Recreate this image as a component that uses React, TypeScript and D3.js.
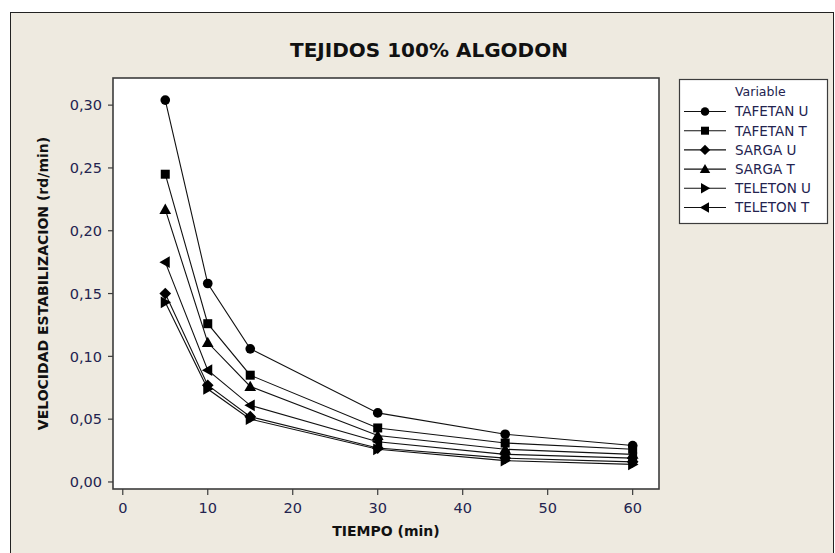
import React, { useRef, useEffect } from 'react';
import * as d3 from 'd3';

const tiempos = [5, 10, 15, 30, 45, 60];
const seriesNames = ['TAFETAN U', 'TAFETAN T', 'SARGA U', 'SARGA T', 'TELETON U', 'TELETON T'];
const tafetanU = [0.304, 0.158, 0.106, 0.055, 0.038, 0.029];
const tafetanT = [0.245, 0.126, 0.085, 0.043, 0.031, 0.026];
const sargaU = [0.150, 0.077, 0.052, 0.027, 0.019, 0.016];
const sargaT = [0.217, 0.111, 0.076, 0.037, 0.026, 0.022];
const teletonU = [0.143, 0.074, 0.050, 0.026, 0.017, 0.014];
const teletonT = [0.175, 0.089, 0.061, 0.032, 0.022, 0.019];
const yTicks = [0, 0.05, 0.1, 0.15, 0.2, 0.25, 0.3];
const xTicks = [0, 10, 20, 30, 40, 50, 60];
const markers = ['circle', 'square', 'diamond', 'up', 'right', 'left'];

const BG = '#eeeae0';
const INK = '#23234f';

// marker shape around 0,0
const markerPath = (kind, r) => {
  switch (kind) {
    case 'square':
      return `M${-r},${-r}H${r}V${r}H${-r}Z`;
    case 'diamond':
      return `M0,${-r * 1.3}L${r * 1.3},0L0,${r * 1.3}L${-r * 1.3},0Z`;
    case 'up':
      return `M0,${-r * 1.3}L${r * 1.3},${r}L${-r * 1.3},${r}Z`;
    case 'right':
      return `M${r * 1.3},0L${-r},${r * 1.3}L${-r},${-r * 1.3}Z`;
    case 'left':
      return `M${-r * 1.3},0L${r},${r * 1.3}L${r},${-r * 1.3}Z`;
    default:
      return d3.symbol(d3.symbolCircle, Math.PI * r * r * 1.15)();
  }
};

const Chart = () => {
  const ref = useRef(null);

  useEffect(() => {
    const values = [tafetanU, tafetanT, sargaU, sargaT, teletonU, teletonT];
    const series = seriesNames.map((name, i) => ({
      name,
      marker: markers[i],
      points: tiempos.map((t, j) => ({ t, v: values[i][j] })),
    }));

    const W = 835, H = 553;
    const plot = { left: 113, top: 78, right: 659, bottom: 489 };

    d3.select(ref.current).selectAll('*').remove();
    const svg = d3.select(ref.current)
      .append('svg')
      .attr('width', W)
      .attr('height', H)
      .style('position', 'absolute')
      .style('left', 0)
      .style('top', 0)
      .style('font-family', "'DejaVu Sans', Verdana, sans-serif");

    svg.append('rect').attr('width', W).attr('height', H).attr('fill', '#ffffff');
    svg.append('rect')
      .attr('x', 10.5).attr('y', 12.5)
      .attr('width', 823).attr('height', 560)
      .attr('fill', BG).attr('stroke', '#222').attr('stroke-width', 1);

    const x = d3.scaleLinear().domain([-1.15, 63.1]).range([plot.left, plot.right]);
    const y = d3.scaleLinear().domain([-0.0056, 0.3216]).range([plot.bottom, plot.top]);

    svg.append('rect')
      .attr('x', plot.left).attr('y', plot.top)
      .attr('width', plot.right - plot.left).attr('height', plot.bottom - plot.top)
      .attr('fill', '#ffffff').attr('stroke', '#3c3c3c').attr('stroke-width', 1.6);

    svg.append('text')
      .attr('x', 429).attr('y', 57)
      .attr('text-anchor', 'middle')
      .style('font-weight', 'bold')
      .style('font-size', '20px')
      .attr('fill', '#111')
      .text('TEJIDOS 100% ALGODON');

    // y axis
    const yAxis = svg.append('g');
    yTicks.forEach(t => {
      yAxis.append('line')
        .attr('x1', plot.left - 5).attr('x2', plot.left)
        .attr('y1', y(t)).attr('y2', y(t))
        .attr('stroke', '#3c3c3c').attr('stroke-width', 1.2);
      yAxis.append('text')
        .attr('x', plot.left - 11).attr('y', y(t))
        .attr('dy', '0.36em')
        .attr('text-anchor', 'end')
        .style('font-size', '14.5px')
        .attr('fill', INK)
        .text(d3.format('.2f')(t).replace('.', ','));
    });

    // x axis
    const xAxis = svg.append('g');
    xTicks.forEach(t => {
      xAxis.append('line')
        .attr('x1', x(t)).attr('x2', x(t))
        .attr('y1', plot.bottom).attr('y2', plot.bottom + 6)
        .attr('stroke', '#3c3c3c').attr('stroke-width', 1.2);
      xAxis.append('text')
        .attr('x', x(t)).attr('y', plot.bottom + 24)
        .attr('text-anchor', 'middle')
        .style('font-size', '14.5px')
        .attr('fill', INK)
        .text(t);
    });

    svg.append('text')
      .attr('x', (plot.left + plot.right) / 2).attr('y', 536)
      .attr('text-anchor', 'middle')
      .style('font-weight', 'bold')
      .style('font-size', '14px')
      .attr('fill', '#111')
      .text('TIEMPO (min)');

    svg.append('text')
      .attr('transform', `translate(48,${(plot.top + plot.bottom) / 2}) rotate(-90)`)
      .attr('text-anchor', 'middle')
      .style('font-weight', 'bold')
      .style('font-size', '14px')
      .attr('fill', '#111')
      .text('VELOCIDAD ESTABILIZACION (rd/min)');

    const line = d3.line().x(d => x(d.t)).y(d => y(d.v));

    const g = svg.append('g');
    series.forEach(s => {
      g.append('path')
        .attr('d', line(s.points))
        .attr('fill', 'none')
        .attr('stroke', '#111')
        .attr('stroke-width', 1.1);
    });
    series.forEach(s => {
      g.selectAll(null)
        .data(s.points)
        .enter()
        .append('path')
        .attr('transform', d => `translate(${x(d.t)},${y(d.v)})`)
        .attr('d', markerPath(s.marker, 4.5))
        .attr('fill', '#000');
    });

    // legend
    const leg = svg.append('g');
    leg.append('rect')
      .attr('x', 679.5).attr('y', 79.5)
      .attr('width', 148).attr('height', 144)
      .attr('fill', '#ffffff').attr('stroke', '#3c3c3c').attr('stroke-width', 1.2);
    leg.append('text')
      .attr('x', 735).attr('y', 92).attr('dy', '0.35em')
      .style('font-size', '12.5px')
      .attr('fill', INK)
      .text('Variable');
    series.forEach((s, i) => {
      const ly = 111.5 + i * 19.2;
      leg.append('line')
        .attr('x1', 684).attr('x2', 726)
        .attr('y1', ly).attr('y2', ly)
        .attr('stroke', '#111').attr('stroke-width', 1.1);
      leg.append('path')
        .attr('transform', `translate(705,${ly})`)
        .attr('d', markerPath(s.marker, 4))
        .attr('fill', '#000');
      leg.append('text')
        .attr('x', 735).attr('y', ly).attr('dy', '0.36em')
        .style('font-size', '13.5px')
        .attr('fill', INK)
        .text(s.name);
    });
  }, []);

  return <div ref={ref}></div>;
};

export default function App() {
  return <Chart />;
}
